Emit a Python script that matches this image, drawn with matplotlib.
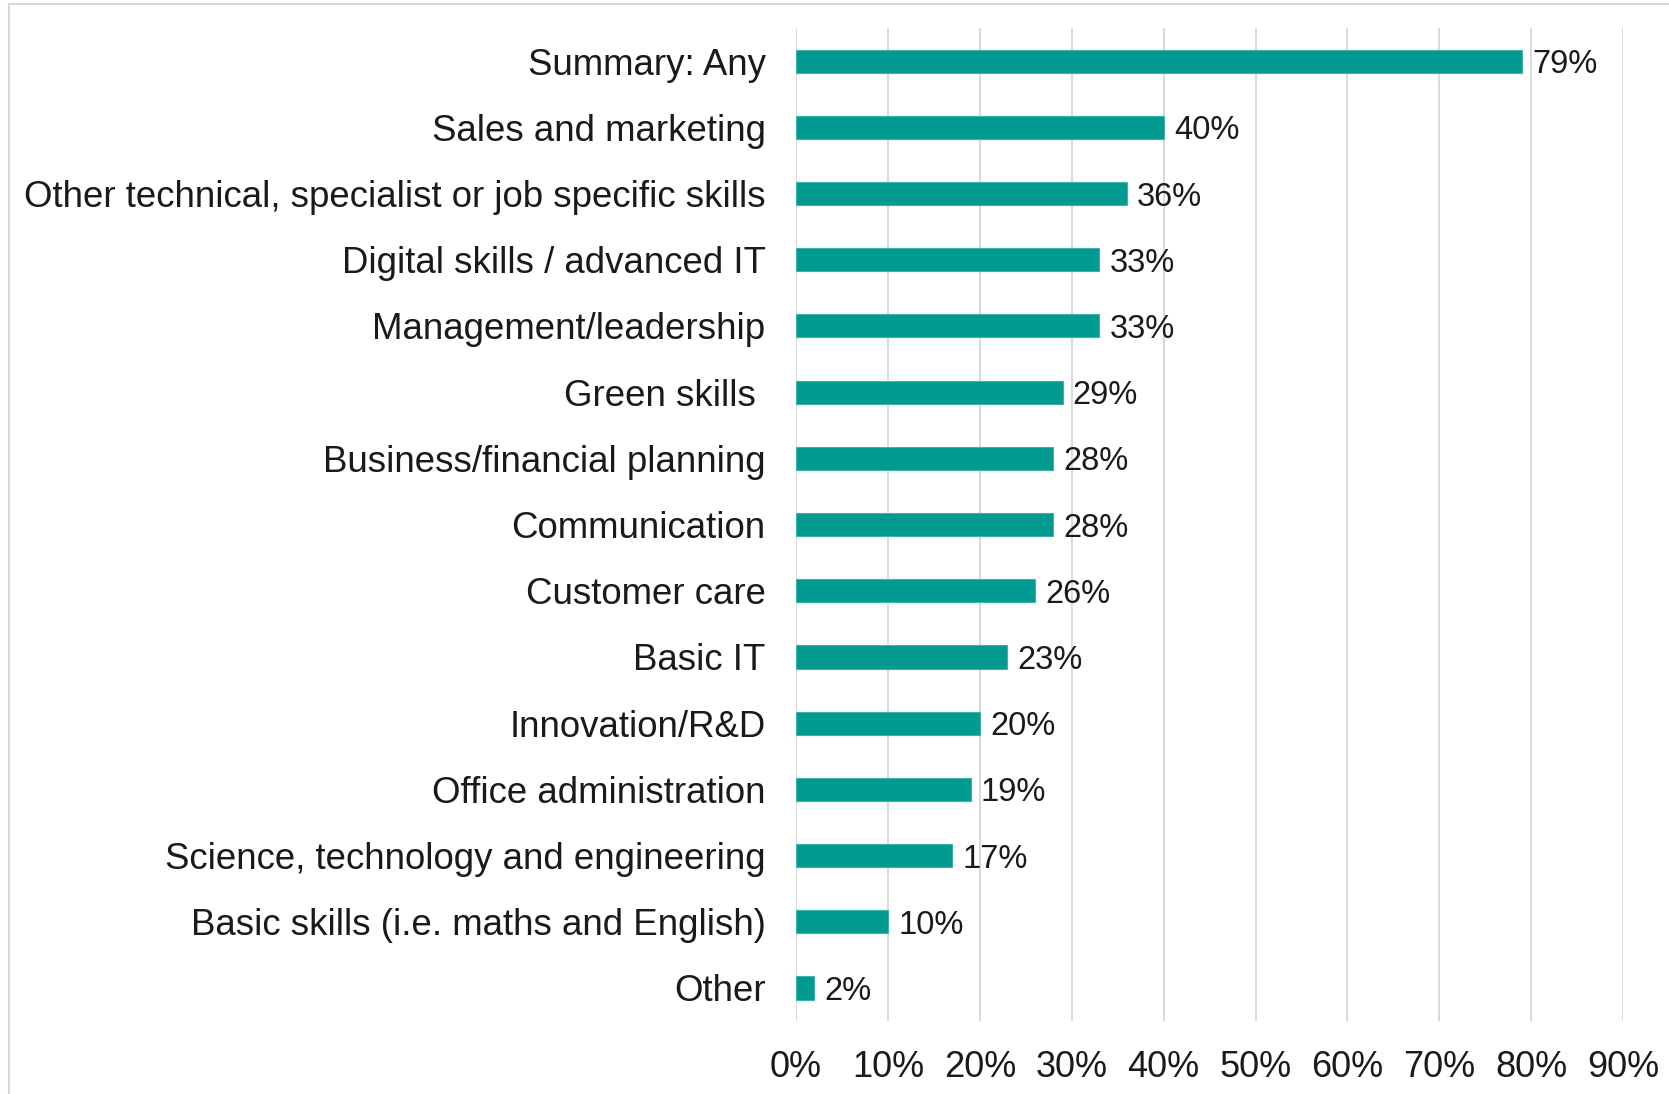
import matplotlib
matplotlib.use("Agg")
import matplotlib.pyplot as plt
from matplotlib.lines import Line2D

categories = ["Summary: Any", "Sales and marketing",
              "Other technical, specialist or job specific skills",
              "Digital skills / advanced IT", "Management/leadership",
              "Green skills ", "Business/financial planning", "Communication",
              "Customer care", "Basic IT", "Innovation/R&D",
              "Office administration", "Science, technology and engineering",
              "Basic skills (i.e. maths and English)", "Other"]
values = [79, 40, 36, 33, 33, 29, 28, 28, 26, 23, 20, 19, 17, 10, 2]
xticks = [0, 10, 20, 30, 40, 50, 60, 70, 80, 90]

plt.rcParams['font.family'] = ['Liberation Sans', 'DejaVu Sans']

fig = plt.figure(figsize=(16.69, 10.94), dpi=100)
ax = fig.add_axes([0.477, 0.0667, 0.4955, 0.9077])

y = list(range(len(categories)))
ax.barh(y, values, height=0.35, color="#009A91", edgecolor="#3DB3AC", linewidth=0.8, zorder=3)
for yi, v in zip(y, values):
    ax.text(v + 1.1, yi, f"{v}%", va="center_baseline", ha="left", fontsize=23.5, color="#1a1a1a")

ax.set_ylim(len(categories) - 0.5, -0.5)
ax.set_xlim(0, 90)
ax.set_yticks(y)
ax.set_yticklabels(categories, fontsize=26.4, color="#1a1a1a")
ax.set_xticks(xticks)
ax.set_xticklabels([f"{t}%" for t in xticks], fontsize=26, color="#1a1a1a",
                   family=['Liberation Sans Narrow', 'Liberation Sans'])
ax.tick_params(axis="y", length=0, pad=22)
ax.tick_params(axis="x", length=0, pad=21)
ax.grid(axis="x", color="#D9D9D9", linewidth=1.4, zorder=0)
for s in ax.spines.values():
    s.set_visible(False)

# thin frame around the chart area (left and top edges visible)
fig.add_artist(Line2D([9 / 1669, 9 / 1669], [0, 1 - 4 / 1094], transform=fig.transFigure,
                      color="#D9D9D9", linewidth=1.5))
fig.add_artist(Line2D([9 / 1669, 1], [1 - 4 / 1094, 1 - 4 / 1094], transform=fig.transFigure,
                      color="#D9D9D9", linewidth=1.5))

fig.savefig("out.png", dpi=100)
